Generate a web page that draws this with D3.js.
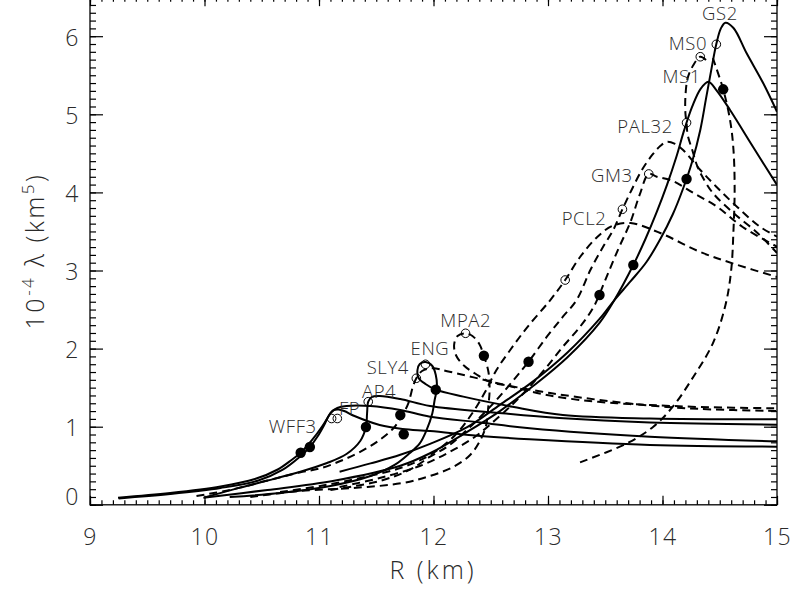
<!DOCTYPE html>
<html><head><meta charset="utf-8">
<script src="https://cdn.jsdelivr.net/npm/d3@7"></script>
<style>
html,body{margin:0;padding:0;background:#fff;}
svg{display:block;}
text{font-family:"Open Sans","Liberation Sans",Arial,sans-serif;font-weight:300;fill:#2a2a2a;}
</style>
</head><body>
<svg id="chart" width="795" height="594"></svg>
<script>
// ---------------- data (R in km, lambda in 1e4 km^5) ----------------
const xTicks = [9, 10, 11, 12, 13, 14, 15];
const yTicks = [0, 1, 2, 3, 4, 5, 6];

const WFF3 = [[9.245,0.091],[9.70,0.151],[10.14,0.234],[10.44,0.33],[10.64,0.452],[10.76,0.574],[10.84,0.667],[10.94,0.83],[11.03,1.009],[11.09,1.15],[11.12,1.207],[11.17,1.22],[11.22,1.201],[11.31,1.137],[11.53,1.022],[11.73,0.971],[11.97,0.945],[12.41,0.881],[12.84,0.839],[13.89,0.766],[15.0,0.744]];
const FP = [[9.25,0.082],[9.70,0.138],[10.14,0.215],[10.47,0.311],[10.68,0.446],[10.82,0.599],[10.92,0.74],[10.99,0.881],[11.05,1.035],[11.10,1.175],[11.16,1.239],[11.24,1.265],[11.45,1.265],[11.71,1.214],[11.97,1.128],[12.41,1.054],[12.84,0.98],[13.89,0.872],[15.0,0.813]];
const AP4 = [[10.0,0.093],[10.31,0.22],[10.55,0.31],[10.83,0.42],[11.07,0.535],[11.24,0.65],[11.36,0.817],[11.41,0.996],[11.42,1.175],[11.43,1.32],[11.46,1.38],[11.53,1.393],[11.71,1.355],[11.97,1.265],[12.55,1.179],[13.10,1.111],[13.89,1.054],[15.0,1.026]];
const ENG = [[10.22,0.10],[10.66,0.151],[11.10,0.241],[11.45,0.369],[11.66,0.51],[11.79,0.659],[11.88,0.787],[11.94,0.958],[11.99,1.172],[12.01,1.342],[12.03,1.495],[12.02,1.662],[11.99,1.777],[11.93,1.828],[11.88,1.803],[11.86,1.726],[11.87,1.624],[11.93,1.547],[12.02,1.474],[12.26,1.385],[12.69,1.256],[13.13,1.15],[13.89,1.105],[15.0,1.095]];
const MS1 = [[9.99,0.091],[10.55,0.19],[11.12,0.305],[11.71,0.50],[11.97,0.66],[12.29,0.93],[12.58,1.20],[12.87,1.52],[13.17,1.89],[13.45,2.33],[13.58,2.622],[13.745,3.07],[13.85,3.40],[13.95,3.75],[14.04,4.10],[14.12,4.45],[14.19,4.80],[14.26,5.10],[14.33,5.32],[14.40,5.417],[14.47,5.311],[14.59,5.055],[14.79,4.585],[15.0,4.095]];
const GS2 = [[11.18,0.424],[11.45,0.53],[11.71,0.64],[11.97,0.78],[12.29,0.99],[12.58,1.28],[12.87,1.58],[13.17,1.95],[13.45,2.38],[13.58,2.622],[13.72,2.86],[13.86,3.109],[13.98,3.40],[14.09,3.72],[14.18,4.05],[14.26,4.40],[14.33,4.80],[14.38,5.20],[14.43,5.60],[14.47,5.90],[14.51,6.10],[14.55,6.173],[14.62,6.105],[14.735,5.781],[14.88,5.397],[15.0,5.033]];

const SLY4 = [[9.93,0.113],[10.22,0.19],[10.57,0.318],[10.83,0.414],[11.01,0.467],[11.21,0.574],[11.39,0.702],[11.53,0.83],[11.65,0.98],[11.72,1.128],[11.78,1.30],[11.82,1.512],[11.85,1.62],[11.90,1.713],[11.99,1.748],[12.14,1.704],[12.55,1.56],[12.73,1.495],[12.99,1.406],[13.28,1.342],[13.60,1.30],[13.89,1.278],[14.33,1.252],[15.0,1.236]];
const MPA2 = [[10.40,0.10],[10.83,0.177],[11.30,0.215],[11.73,0.279],[11.97,0.369],[12.17,0.484],[12.32,0.638],[12.41,0.83],[12.46,1.022],[12.48,1.278],[12.49,1.47],[12.48,1.70],[12.44,1.909],[12.40,2.059],[12.34,2.161],[12.28,2.196],[12.21,2.161],[12.18,2.046],[12.20,1.905],[12.27,1.777],[12.37,1.675],[12.49,1.576],[12.67,1.521],[13.02,1.431],[13.45,1.342],[13.89,1.271],[14.33,1.227],[15.0,1.201]];
const PCL2 = [[10.66,0.164],[11.01,0.241],[11.36,0.343],[11.71,0.471],[11.97,0.638],[12.19,0.894],[12.34,1.175],[12.45,1.444],[12.55,1.726],[12.67,1.982],[12.82,2.276],[13.02,2.622],[13.15,2.878],[13.28,3.173],[13.43,3.429],[13.56,3.57],[13.72,3.608],[13.98,3.48],[14.33,3.237],[14.63,3.083],[15.0,2.917]];
const MS0 = [[11.10,0.19],[11.53,0.305],[11.79,0.446],[11.97,0.616],[12.12,0.744],[12.26,0.915],[12.41,1.128],[12.55,1.342],[12.70,1.598],[12.83,1.832],[12.99,2.152],[13.13,2.408],[13.25,2.622],[13.37,3.006],[13.48,3.301],[13.57,3.519],[13.65,3.784],[13.73,4.031],[13.82,4.287],[13.91,4.479],[13.98,4.594],[14.04,4.649],[14.11,4.62],[14.18,4.543],[14.33,4.287],[14.47,4.073],[14.65,3.817],[14.85,3.561],[15.0,3.433]];
const GM3 = [[11.18,0.228],[11.53,0.343],[11.88,0.497],[12.14,0.676],[12.36,0.868],[12.54,1.086],[12.70,1.30],[12.84,1.512],[12.99,1.768],[13.13,2.024],[13.28,2.28],[13.40,2.537],[13.50,2.878],[13.61,3.262],[13.72,3.621],[13.80,3.967],[13.88,4.236],[13.95,4.201],[14.09,4.146],[14.27,3.992],[14.48,3.813],[14.70,3.557],[15.0,3.305]];
const PAL32 = [[14.38,5.695],[14.33,5.737],[14.27,5.631],[14.22,5.464],[14.20,5.221],[14.20,5.017],[14.21,4.892],[14.22,4.735],[14.26,4.543],[14.30,4.351],[14.345,4.21],[14.44,3.992],[14.62,3.736],[14.83,3.48],[15.0,3.224]];
const GS2b = [[13.28,0.544],[13.69,0.787],[13.92,1.00],[14.09,1.256],[14.27,1.64],[14.44,2.068],[14.55,2.558],[14.60,3.006],[14.62,3.519],[14.63,4.031],[14.62,4.543],[14.59,4.927],[14.53,5.32],[14.47,5.592],[14.44,5.72]];

const solidCurves = [WFF3, FP, AP4, ENG, MS1, GS2];
const dashedCurves = [SLY4, MPA2, PCL2, MS0, GM3, PAL32, GS2b];

const filledPts = [[10.84,0.667],[10.92,0.74],[11.41,0.996],[11.71,1.15],[11.74,0.903],[12.02,1.474],[12.44,1.909],[12.83,1.832],[13.45,2.686],[13.745,3.07],[14.21,4.172],[14.53,5.32]];
const openPts = [[11.11,1.105],[11.16,1.105],[11.43,1.32],[11.85,1.62],[11.93,1.799],[12.28,2.196],[13.15,2.878],[13.65,3.784],[13.88,4.236],[14.21,4.892],[14.33,5.737],[14.47,5.896]];

const labelNames = ["WFF3","FP","AP4","SLY4","ENG","MPA2","PCL2","GM3","PAL32","MS1","MS0","GS2"];
const labelR     = [10.98, 11.36, 11.375, 11.786, 11.80, 12.06, 13.51, 13.74, 14.09, 14.00, 14.39, 14.345];
const labelL     = [0.919, 1.15, 1.367, 1.68, 1.92, 2.276, 3.583, 4.133, 4.757, 5.40, 5.823, 6.21];
const labelAnchor= ["end","end","start","end","start","start","end","end","end","start","end","start"];

// ---------------- drawing ----------------
const svg = d3.select("#chart");
const L = 90, R = 777, B = 504.8, T = -2.85;
const x = d3.scaleLinear().domain([9, 15]).range([L, R]);
const y = d3.scaleLinear().domain([0, 6.5]).range([B, T]);

svg.append("defs").append("clipPath").attr("id","clip")
  .append("rect").attr("x",L).attr("y",T).attr("width",R-L).attr("height",B-T);

const minorX = d3.range(9, 15.0001, 0.1).map(v => +v.toFixed(2));
const minorY = d3.range(0, 6.5001, 0.1).map(v => +v.toFixed(2));

const FONT = "Open Sans, Liberation Sans, Arial, sans-serif";
function styleAxis(g){
  g.select(".domain").remove();
  g.selectAll(".tick line").attr("stroke","#000").attr("stroke-width",1.2);
}
function styleLabels(g){
  g.selectAll(".tick text").attr("font-size",23).attr("fill","#2a2a2a")
    .attr("font-family",FONT).attr("font-weight",300).attr("letter-spacing",1.5);
}
// bottom
svg.append("g").attr("transform",`translate(0,${B})`)
  .call(d3.axisBottom(x).tickValues(minorX).tickSize(-4.5).tickSizeOuter(0).tickFormat(""))
  .call(styleAxis);
svg.append("g").attr("transform",`translate(0,${B})`)
  .call(d3.axisBottom(x).tickValues(xTicks).tickSize(-9).tickSizeOuter(0).tickPadding(24).tickFormat(d3.format("d")))
  .call(styleAxis).call(styleLabels);
// top
svg.append("g").attr("transform",`translate(0,${T})`)
  .call(d3.axisTop(x).tickValues(minorX).tickSize(-4.5).tickSizeOuter(0).tickFormat(""))
  .call(styleAxis);
svg.append("g").attr("transform",`translate(0,${T})`)
  .call(d3.axisTop(x).tickValues(xTicks).tickSize(-9).tickSizeOuter(0).tickFormat(""))
  .call(styleAxis);
// left
svg.append("g").attr("transform",`translate(${L},0)`)
  .call(d3.axisLeft(y).tickValues(minorY).tickSize(-6).tickSizeOuter(0).tickFormat(""))
  .call(styleAxis);
svg.append("g").attr("transform",`translate(${L},0)`)
  .call(d3.axisLeft(y).tickValues(yTicks).tickSize(-13).tickSizeOuter(0).tickPadding(10).tickFormat(d3.format("d")))
  .call(styleAxis).call(styleLabels)
  .call(g => g.selectAll(".tick text").attr("dy", d => d === 0 ? "0.0em" : "0.4em"));
// right
svg.append("g").attr("transform",`translate(${R},0)`)
  .call(d3.axisRight(y).tickValues(minorY).tickSize(-6).tickSizeOuter(0).tickFormat(""))
  .call(styleAxis);
svg.append("g").attr("transform",`translate(${R},0)`)
  .call(d3.axisRight(y).tickValues(yTicks).tickSize(-13).tickSizeOuter(0).tickFormat(""))
  .call(styleAxis);
// frame
svg.append("rect").attr("x",L).attr("y",T).attr("width",R-L).attr("height",B-T)
  .attr("fill","none").attr("stroke","#000").attr("stroke-width",1.3);

// curves
const line = d3.line().x(d => x(d[0])).y(d => y(d[1])).curve(d3.curveCatmullRom.alpha(0.5));
const plot = svg.append("g").attr("clip-path","url(#clip)");
plot.selectAll("path.solid").data(solidCurves).join("path")
  .attr("class","solid").attr("d", line)
  .attr("fill","none").attr("stroke","#000").attr("stroke-width",2);
plot.selectAll("path.dash").data(dashedCurves).join("path")
  .attr("class","dash").attr("d", line)
  .attr("fill","none").attr("stroke","#000").attr("stroke-width",2)
  .attr("stroke-dasharray","8,5");

plot.selectAll("circle.open").data(openPts).join("circle")
  .attr("class","open").attr("cx", d => x(d[0])).attr("cy", d => y(d[1])).attr("r",4.3)
  .attr("fill","none").attr("stroke","#000").attr("stroke-width",1);
plot.selectAll("circle.fill").data(filledPts).join("circle")
  .attr("class","fill").attr("cx", d => x(d[0])).attr("cy", d => y(d[1])).attr("r",5.2)
  .attr("fill","#000");

// curve labels
svg.selectAll("text.lab").data(labelNames).join("text")
  .attr("class","lab")
  .attr("x", (d,i) => x(labelR[i])).attr("y", (d,i) => y(labelL[i]))
  .attr("text-anchor", (d,i) => labelAnchor[i])
  .attr("font-size",18.5).attr("letter-spacing",0.6).text(d => d);

// axis titles
svg.append("text").attr("x", 433).attr("y", 579).attr("text-anchor","middle")
  .attr("font-size",25).attr("letter-spacing",3).text("R (km)");
const yl = svg.append("text").attr("transform","translate(44,251) rotate(-90)")
  .attr("text-anchor","middle").attr("font-size",25).attr("letter-spacing",2.5);
yl.append("tspan").text("10");
yl.append("tspan").attr("dy",-10).attr("font-size",17).text("-4");
yl.append("tspan").attr("dy",10).text(" \u03bb (km");
yl.append("tspan").attr("dy",-10).attr("font-size",17).text("5");
yl.append("tspan").attr("dy",10).text(")");
</script>
</body></html>
